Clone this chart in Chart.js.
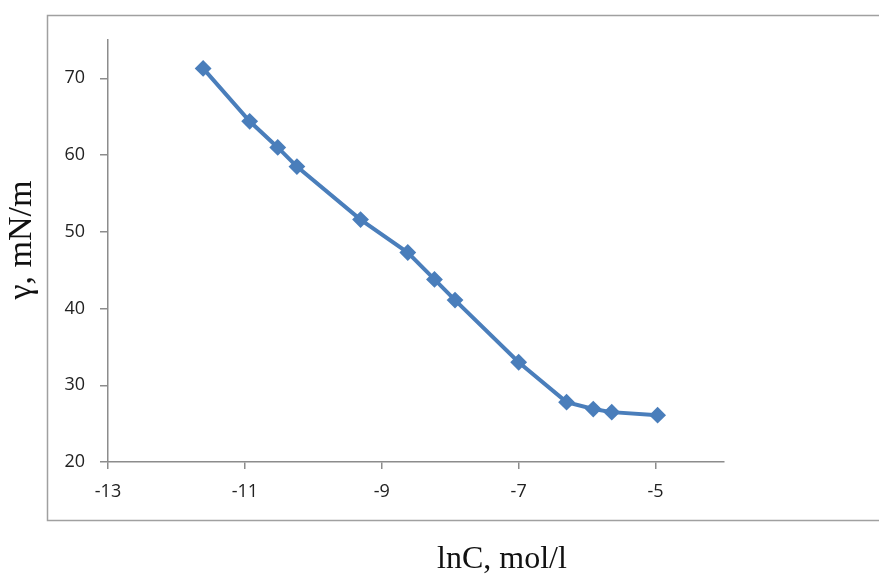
<!DOCTYPE html>
<html>
<head>
<meta charset="utf-8">
<style>
  html, body { margin: 0; padding: 0; background: #fff; }
  #wrap { position: relative; width: 879px; height: 577px; }
</style>
<script src="https://cdn.jsdelivr.net/npm/chart.js@4/dist/chart.umd.min.js"></script>
</head>
<body>
<div id="wrap"><canvas id="chart" width="879" height="577"></canvas></div>
<script>
(function () {
    'use strict';

    // Data.
    var lnC    = [-11.61, -10.93, -10.52, -10.24, -9.31, -8.62, -8.23, -7.93, -7.0, -6.30, -5.91, -5.64, -4.97];
    var gamma  = [71.3, 64.4, 61.0, 58.5, 51.6, 47.3, 43.8, 41.1, 33.0, 27.8, 26.9, 26.5, 26.1];
    var xTicks = [-13, -11, -9, -7, -5];
    var yTicks = [20, 30, 40, 50, 60, 70];

    var AXIS_COLOR = '#8c8c8c';
    var LINE_COLOR = '#4a7ebb';

    var points = lnC.map(function (x, i) { return { x: x, y: gamma[i] }; });

    // Replace the generated ticks with the ones in the picture.
    function useTicks(list) {
        return function (scale) {
            scale.ticks = list.map(function (v) { return { value: v }; });
        };
    }

    // Outer frame and the two axis titles.
    var framePlugin = {
        id: 'frame',
        afterDraw: function (chart) {
            var ctx = chart.ctx;
            ctx.save();
            ctx.strokeStyle = '#a0a0a0';
            ctx.lineWidth = 1.5;
            ctx.strokeRect(47.5, 15.5, 840, 505);

            ctx.fillStyle = '#111';
            ctx.font = '32px "Liberation Serif", "Times New Roman", serif';
            ctx.textAlign = 'center';
            ctx.textBaseline = 'middle';
            ctx.fillText('lnC, mol/l', 502, 560);

            ctx.font = '34px "Liberation Serif", "Times New Roman", serif';
            ctx.translate(22, 240);
            ctx.rotate(-Math.PI / 2);
            ctx.fillText('γ, mN/m', 0, 0);
            ctx.restore();
        }
    };

    new Chart(document.getElementById('chart'), {
        type: 'scatter',
        data: {
            datasets: [{
                data:             points,
                showLine:         true,
                borderColor:      LINE_COLOR,
                backgroundColor:  LINE_COLOR,
                borderWidth:      4,
                tension:          0,
                pointStyle:       'rectRot',
                pointRadius:      7,
                pointBorderWidth: 2,
                pointBorderColor: LINE_COLOR,
                pointBackgroundColor: LINE_COLOR,
            }],
        },
        options: {
            responsive: false,
            animation: false,
            layout: { padding: { top: 40, right: 155, left: 0, bottom: 0 } },
            plugins: {
                legend:  { display: false },
                tooltip: { enabled: false },
            },
            scales: {
                x: {
                    type: 'linear',
                    min: -13,
                    max: -4,
                    afterBuildTicks: useTicks(xTicks),
                    afterFit: function (scale) { scale.height = 115; },
                    grid:   { drawOnChartArea: false, drawTicks: true, tickLength: 7, color: AXIS_COLOR, lineWidth: 1.5 },
                    border: { display: true, color: AXIS_COLOR, width: 1.5 },
                    ticks:  { padding: 12, color: '#222', font: { family: 'Open Sans', size: 18 } },
                },
                y: {
                    type: 'linear',
                    min: 20,
                    max: 75,
                    afterBuildTicks: useTicks(yTicks),
                    afterFit: function (scale) { scale.width = 108; },
                    grid:   { drawOnChartArea: false, drawTicks: true, tickLength: 8, color: AXIS_COLOR, lineWidth: 1.5 },
                    border: { display: true, color: AXIS_COLOR, width: 1.5 },
                    ticks:  { padding: 15, color: '#222', font: { family: 'Open Sans', size: 18 } },
                },
            },
        },
        plugins: [framePlugin],
    });
}());
</script>
</body>
</html>
